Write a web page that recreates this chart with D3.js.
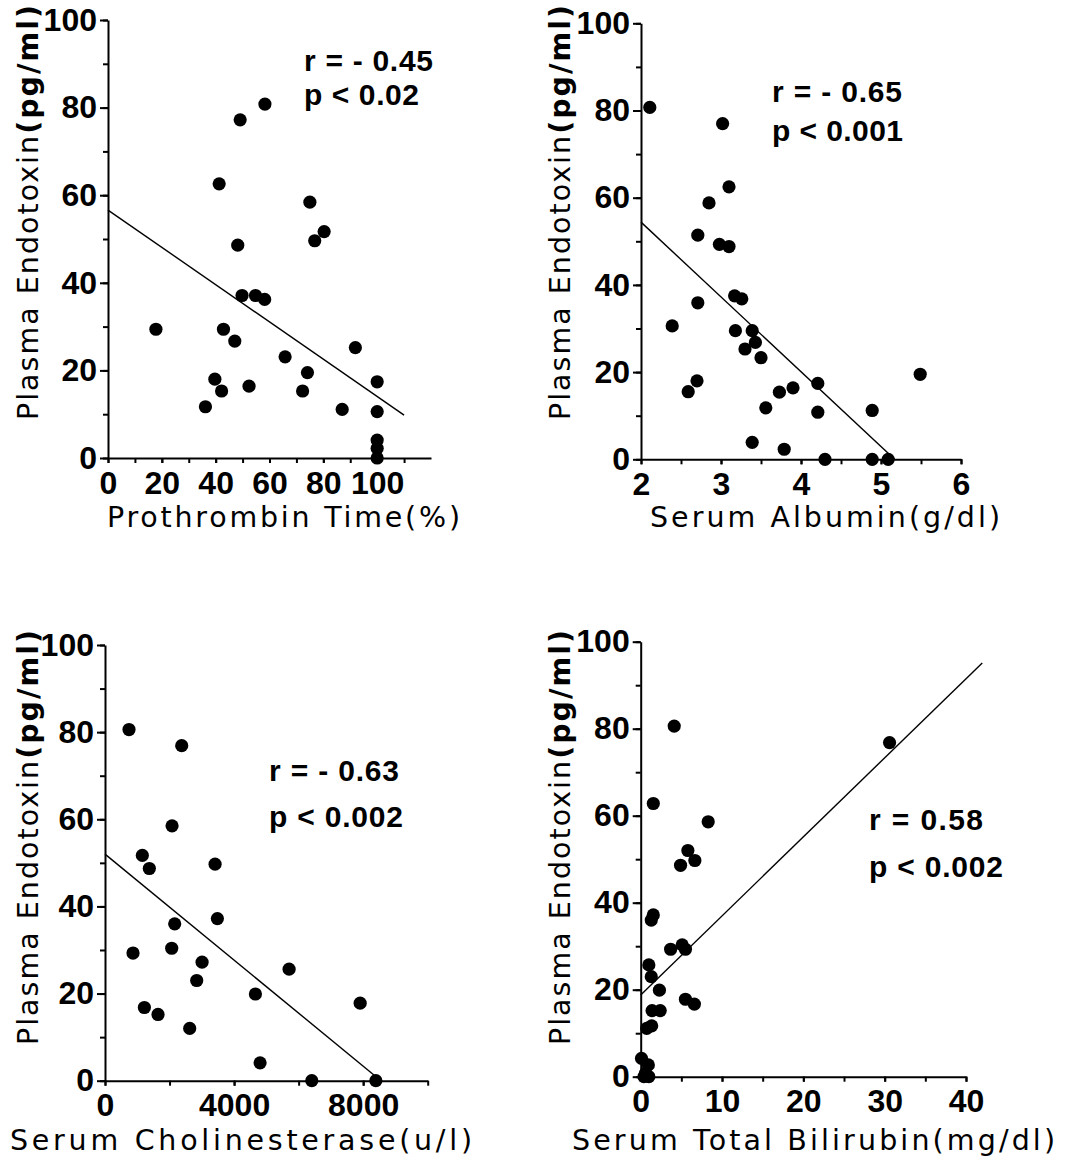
<!DOCTYPE html>
<html>
<head>
<meta charset="utf-8">
<script src="https://cdn.jsdelivr.net/npm/d3@7"></script>
<style>
  html, body { margin: 0; padding: 0; background: #fff; }
  svg { display: block; }
  .tick text { font-family: "Liberation Sans", Arial, sans-serif; font-weight: bold; font-size: 32px; fill: #000; }
  .domain, .tick line { stroke: #000; stroke-width: 2; }
  .title { font-family: "DejaVu Sans", sans-serif; font-size: 28.5px; fill: #000; }
  .stat { font-family: "Liberation Sans", Arial, sans-serif; font-weight: bold; font-size: 30px; fill: #000; }
</style>
</head>
<body>
<script>
// ---------- data ----------
const yTickValues = [0, 10, 20, 30, 40, 50, 60, 70, 80, 90, 100];
const yTickLabels = [0, 20, 40, 60, 80, 100];
const yTitleMain = "Plasma Endotoxin";
const yTitleUnit = "(pg/ml)";

// Panel 1: Prothrombin Time
const ptX = [17.8, 36.2, 39.7, 41.3, 42.2, 42.9, 47.1, 48.2, 49.1, 49.8, 52.4, 54.8, 58.2, 58.3, 65.8, 72.3, 74.1, 75.0, 76.8, 80.3, 87.0, 91.9, 100, 100, 100, 100, 100];
const ptY = [29.4, 11.7, 18.0, 62.6, 15.3, 29.4, 26.7, 48.6, 77.2, 37.1, 16.4, 37.1, 36.2, 80.8, 23.1, 15.3, 19.5, 58.4, 49.6, 51.7, 11.1, 25.2, 17.4, 10.6, 4.1, 2.2, 0];
const ptLineX = [0, 110];
const ptLineY = [56.6, 9.8];
const ptTicks = [0, 10, 20, 30, 40, 50, 60, 70, 80, 90, 100, 110];
const ptTickLabels = [0, 20, 40, 60, 80, 100];
const ptTitle = "Prothrombin Time(%)";
const ptStats = ["r = - 0.45", "p < 0.02"];

// Panel 2: Serum Albumin
const albX = [2.11, 2.39, 2.59, 2.70, 2.71, 2.71, 2.85, 2.98, 3.02, 3.10, 3.10, 3.17, 3.26, 3.18, 3.30, 3.39, 3.43, 3.50, 3.39, 3.56, 3.73, 3.79, 3.90, 4.21, 4.21, 4.30, 4.89, 4.89, 5.09, 5.49];
const albY = [80.7, 30.6, 15.5, 18.0, 35.9, 51.4, 58.8, 49.3, 77.0, 62.5, 48.8, 37.5, 36.8, 29.5, 25.3, 29.5, 26.8, 23.3, 3.9, 11.8, 15.4, 2.3, 16.4, 17.4, 10.8, 0, 11.2, 0, 0, 19.5];
const albLineX = [2.0, 5.17];
const albLineY = [54.4, 0];
const albTicks = [2, 2.5, 3, 3.5, 4, 4.5, 5, 5.5, 6];
const albTickLabels = [2, 3, 4, 5, 6];
const albTitle = "Serum Albumin(g/dl)";
const albStats = ["r = - 0.65", "p < 0.001"];

// Panel 3: Serum Cholinesterase
const cheX = [744, 2377, 2078, 1157, 1374, 3411, 2160, 3483, 868, 2067, 3008, 2842, 5705, 4661, 1220, 1643, 2625, 7907, 4806, 6408, 8393];
const cheY = [80.6, 76.9, 58.5, 51.7, 48.7, 49.7, 36.0, 37.2, 29.3, 30.4, 27.2, 23.0, 25.6, 19.9, 16.8, 15.2, 12.0, 17.8, 4.1, 0, 0];
const cheLineX = [0, 8550];
const cheLineY = [52.0, 0];
const cheTicks = [0, 2000, 4000, 6000, 8000, 10000];
const cheTickLabels = [0, 4000, 8000];
const cheTitle = "Serum Cholinesterase(u/l)";
const cheStats = ["r = - 0.63", "p < 0.002"];

// Panel 4: Serum Total Bilirubin
const bilX = [4.12, 30.6, 1.55, 8.3, 5.8, 6.66, 4.9, 1.55, 1.3, 3.68, 5.1, 5.5, 1.0, 1.3, 2.3, 5.5, 6.6, 1.4, 2.4, 0.74, 1.35, 0.1, 0.94, 0.4, 1.0, 0.6];
const bilY = [80.6, 76.8, 62.8, 58.6, 52.0, 49.7, 48.6, 37.2, 36.0, 29.3, 30.3, 29.3, 25.7, 23.0, 19.9, 17.8, 16.7, 15.2, 15.2, 11.1, 11.7, 4.2, 2.7, 0, 0, 0.8];
const bilLineX = [0, 42];
const bilLineY = [18.8, 95.1];
const bilTicks = [0, 5, 10, 15, 20, 25, 30, 35, 40];
const bilTickLabels = [0, 10, 20, 30, 40];
const bilTitle = "Serum Total Bilirubin(mg/dl)";
const bilStats = ["r = 0.58", "p < 0.002"];

// ---------- layout ----------
const svg = d3.select("body").append("svg").attr("width", 1066).attr("height", 1156);

const panels = [
  { xs: ptX, ys: ptY, lx: ptLineX, ly: ptLineY, ticks: ptTicks, labels: ptTickLabels, title: ptTitle, stats: ptStats,
    xDom: [0, 120], xRange: [108, 431], yRange: [458, 20],
    titleX: 107, titleY: 527, titleLen: 353,
    yTitleX: 38, yTitleY0: 420, yTitleLen: 415,
    statX: 304, statY: [71, 105], statLen: [129, 115] },
  { xs: albX, ys: albY, lx: albLineX, ly: albLineY, ticks: albTicks, labels: albTickLabels, title: albTitle, stats: albStats,
    xDom: [2, 6], xRange: [641, 961], yRange: [459.3, 23.3],
    titleX: 650, titleY: 527, titleLen: 350,
    yTitleX: 570, yTitleY0: 420, yTitleLen: 415,
    statX: 772, statY: [102, 141], statLen: [130, 131] },
  { xs: cheX, ys: cheY, lx: cheLineX, ly: cheLineY, ticks: cheTicks, labels: cheTickLabels, title: cheTitle, stats: cheStats,
    xDom: [0, 10000], xRange: [105, 427.7], yRange: [1080.7, 645],
    titleX: 10, titleY: 1150, titleLen: 462,
    yTitleX: 38, yTitleY0: 1045, yTitleLen: 415,
    statX: 269, statY: [781, 827], statLen: [130, 134] },
  { xs: bilX, ys: bilY, lx: bilLineX, ly: bilLineY, ticks: bilTicks, labels: bilTickLabels, title: bilTitle, stats: bilStats,
    xDom: [0, 40], xRange: [640.7, 966], yRange: [1076.7, 641.7],
    titleX: 572, titleY: 1150, titleLen: 483,
    yTitleX: 570, yTitleY0: 1045, yTitleLen: 415,
    statX: 869, statY: [830, 877], statLen: [114, 134] }
];

panels.forEach(p => {
  const x = d3.scaleLinear().domain(p.xDom).range(p.xRange);
  const y = d3.scaleLinear().domain([0, 100]).range(p.yRange);
  const g = svg.append("g");
  const x0 = p.xRange[0], y0 = p.yRange[0];

  // y axis: minor ticks
  g.append("g").attr("transform", `translate(${x0},0)`)
    .call(d3.axisLeft(y).tickValues(yTickValues).tickSize(5).tickSizeOuter(0).tickFormat(""));
  // y axis: major ticks with labels
  const ya = g.append("g").attr("transform", `translate(${x0},0)`)
    .call(d3.axisLeft(y).tickValues(yTickLabels).tickSize(8).tickSizeOuter(0).tickPadding(3));
  ya.select(".domain").remove();

  // x axis ticks
  g.append("g").attr("transform", `translate(0,${y0})`)
    .call(d3.axisBottom(x).tickValues(p.ticks).tickSize(5).tickSizeOuter(0).tickFormat(""));
  const xa = g.append("g").attr("transform", `translate(0,${y0})`)
    .call(d3.axisBottom(x).tickValues(p.labels).tickSize(5).tickSizeOuter(0).tickPadding(8).tickFormat(d3.format("d")));
  xa.select(".domain").remove();

  // regression line
  const lineData = p.lx.map((v, i) => [v, p.ly[i]]);
  g.append("path")
    .datum(lineData)
    .attr("d", d3.line().x(d => x(d[0])).y(d => y(d[1])))
    .attr("fill", "none").attr("stroke", "#000").attr("stroke-width", 1.4);

  // points
  g.selectAll("circle.pt")
    .data(p.xs.map((v, i) => [v, p.ys[i]]))
    .join("circle")
    .attr("class", "pt")
    .attr("cx", d => x(d[0])).attr("cy", d => y(d[1]))
    .attr("r", 6.6).attr("fill", "#000");

  // x title
  g.append("text").attr("class", "title")
    .attr("x", p.titleX).attr("y", p.titleY)
    .attr("textLength", p.titleLen).attr("lengthAdjust", "spacing")
    .text(p.title);

  // y title
  const yt = g.append("text").attr("class", "title")
    .attr("transform", `translate(${p.yTitleX},${p.yTitleY0}) rotate(-90)`)
    .attr("textLength", p.yTitleLen).attr("lengthAdjust", "spacing");
  yt.append("tspan").text(yTitleMain);
  yt.append("tspan").attr("font-weight", "bold").text(yTitleUnit);

  // stats
  p.stats.forEach((s, i) => {
    g.append("text").attr("class", "stat")
      .attr("x", p.statX).attr("y", p.statY[i])
      .attr("textLength", p.statLen[i]).attr("lengthAdjust", "spacing")
      .text(s);
  });
});
</script>
</body>
</html>
